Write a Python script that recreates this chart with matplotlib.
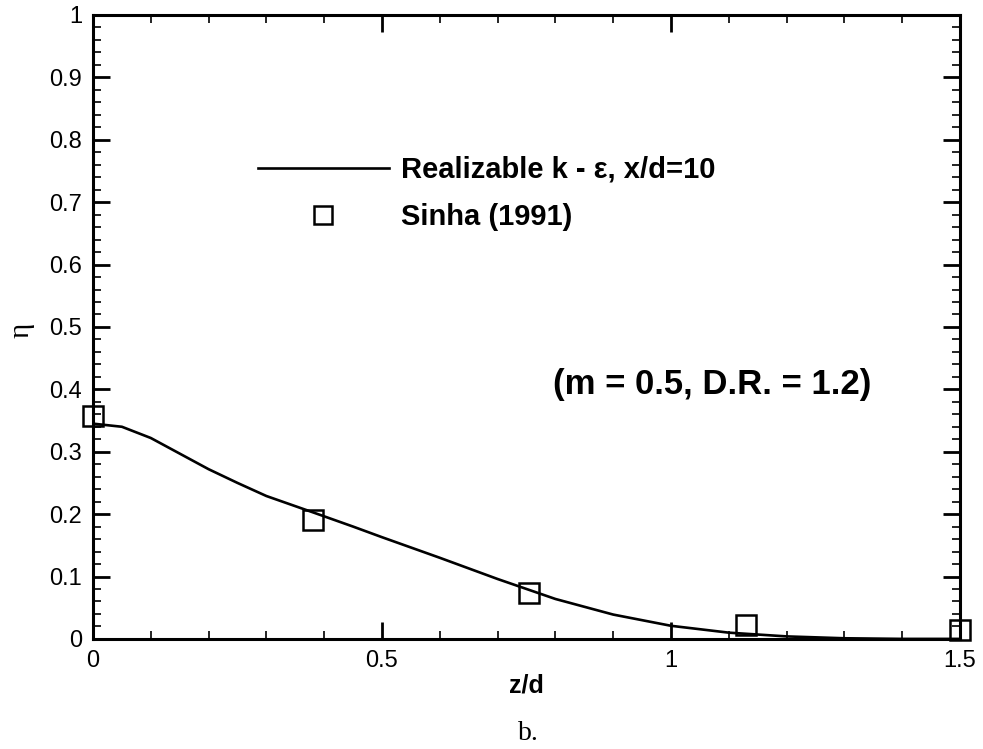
import matplotlib.pyplot as plt
import numpy as np
from matplotlib.ticker import MultipleLocator

# Realizable k-epsilon prediction, x/d = 10
z_model = [0.0, 0.05, 0.1, 0.15, 0.2, 0.25, 0.3, 0.38, 0.45, 0.5, 0.6, 0.7,
           0.8, 0.9, 1.0, 1.1, 1.2, 1.3, 1.4, 1.5]
eta_model = [0.345, 0.340, 0.322, 0.297, 0.272, 0.250, 0.229, 0.203, 0.180,
             0.163, 0.130, 0.096, 0.064, 0.039, 0.021, 0.010, 0.004, 0.001,
             0.0, 0.0]

# Sinha (1991) measurements
z_exp = [0.0, 0.38, 0.755, 1.13, 1.5]
eta_exp = [0.358, 0.190, 0.073, 0.023, 0.014]

yticks = [0, 0.1, 0.2, 0.3, 0.4, 0.5, 0.6, 0.7, 0.8, 0.9, 1]
ylabels = ['0', '0.1', '0.2', '0.3', '0.4', '0.5', '0.6', '0.7', '0.8',
           '0.9', '1']
xticks = [0, 0.5, 1, 1.5]
xlabels = ['0', '0.5', '1', '1.5']

plt.rcParams['font.family'] = ['Liberation Sans', 'DejaVu Sans']

fig = plt.figure(figsize=(9.83, 7.49), dpi=100)
ax = fig.add_axes([0.0946, 0.147, 0.882, 0.833])

ax.plot(z_model, eta_model, color='black', lw=1.9,
        label='Realizable k - \u03b5, x/d=10')
ax.plot(z_exp, eta_exp, 's', ms=15, mfc='none', mec='black', mew=1.8,
        label='Sinha (1991)', clip_on=False, zorder=5)

ax.set_xlim(0, 1.5)
ax.set_ylim(0, 1)
ax.set_xticks(xticks, xlabels)
ax.set_yticks(yticks, ylabels)
ax.xaxis.set_minor_locator(MultipleLocator(0.1))
ax.yaxis.set_minor_locator(MultipleLocator(0.02))
ax.tick_params(which='both', direction='in', top=True, right=True,
               labelsize=17)
ax.tick_params(which='major', length=12, width=2, pad=8)
ax.tick_params(which='minor', length=6, width=1.2)
for s in ax.spines.values():
    s.set_linewidth(2.2)

ax.set_xlabel('z/d', fontsize=18, fontweight='bold')
ax.xaxis.set_label_coords(0.5, -0.055)
ax.set_ylabel('\u03b7', fontsize=21, family='Liberation Serif')
ax.yaxis.set_label_coords(-0.068, 0.495)

ax.legend(loc='upper left', bbox_to_anchor=(0.19, 0.774), frameon=False,
          prop={'size': 21, 'weight': 'bold'}, handlelength=4.5,
          handletextpad=0.41, labelspacing=0.66, borderpad=0,
          borderaxespad=0, markerscale=0.85)

ax.text(0.898, 0.407, '(m = 0.5, D.R. = 1.2)', fontsize=25,
        fontweight='bold', ha='right', va='center', transform=ax.transAxes)

fig.text(0.538, 0.021, 'b.', fontsize=20, family='Liberation Serif',
         ha='center', va='center')

fig.savefig('out.png', dpi=100)
